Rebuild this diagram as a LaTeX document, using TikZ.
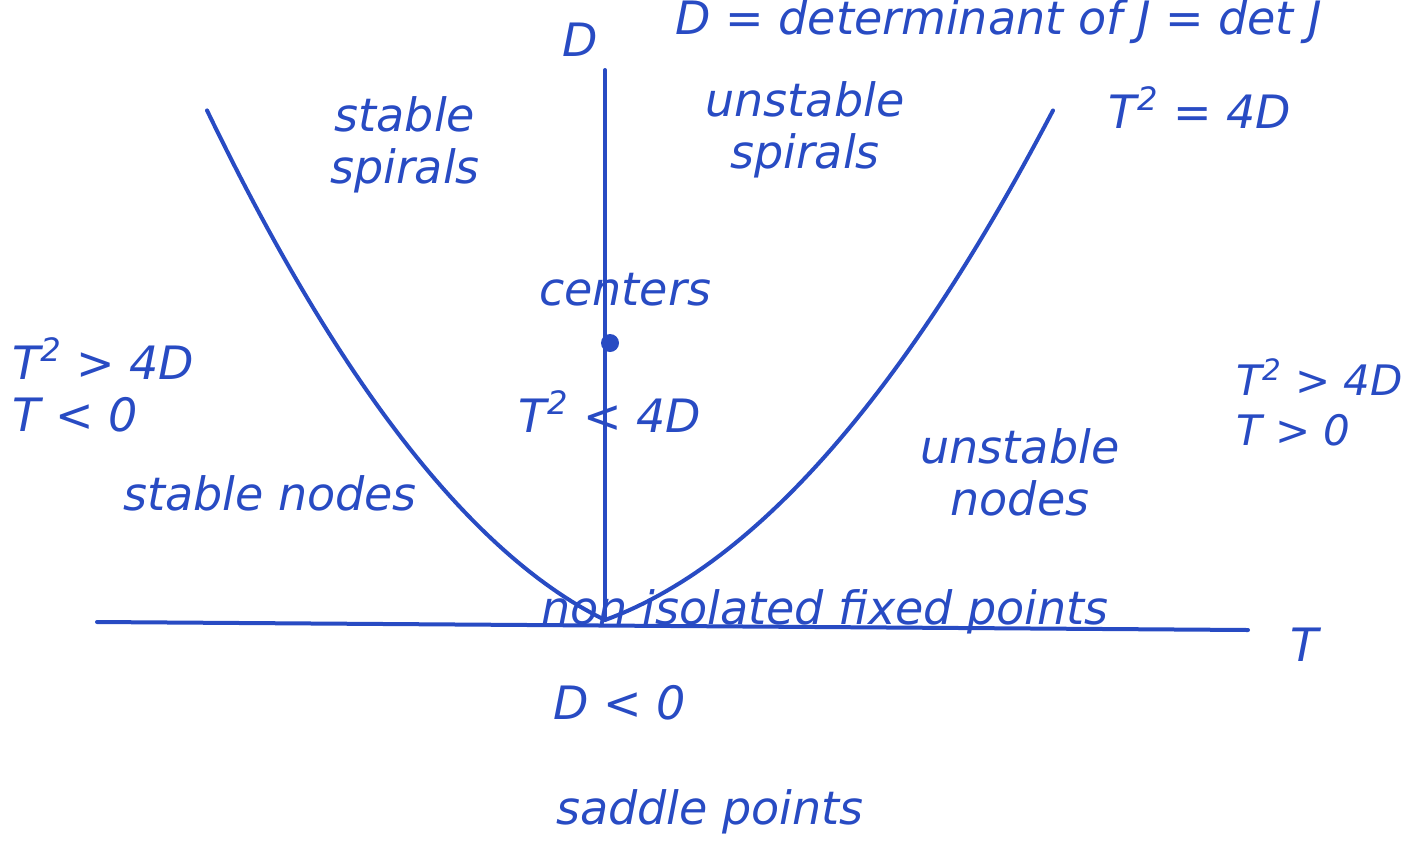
\documentclass[tikz,border=0pt]{standalone}
\usepackage{fontspec}
\setmainfont{DejaVu Sans}
\definecolor{ink}{RGB}{40,75,195}
\begin{document}
\begin{tikzpicture}[x=0.5pt,y=-0.5pt,
  hand/.style={text=ink,font=\fontsize{23}{26}\selectfont\itshape,align=center,inner sep=0pt},
  axis/.style={draw=ink,line width=2pt,line cap=round},
  curve/.style={draw=ink,line width=2pt,line cap=round,line join=round}]
\useasboundingbox (0,0) rectangle (1426,848);
% axes
\coordinate (dtop) at (605,70);
\coordinate (origin) at (605,620);
\coordinate (tleft) at (97,622);
\coordinate (tright) at (1248,630);
\draw[axis] (dtop) -- (origin);
\draw[axis] (tleft) -- (tright);
% parabola T^2 = 4D
\draw[curve] plot[domain=398:0,samples=60,variable=\u] ({605-\u},{620-(0.491*\u+0.001986*\u*\u)})
  -- plot[domain=0:448,samples=60,variable=\u] ({605+\u},{620-(0.365*\u+0.001726*\u*\u)});
% centers dot
\fill[ink] (610,343) circle (9);
% labels
\node[hand] (lD) at (580,40) {D};
\node[hand] (lT) at (1305,645) {T};
\node[hand,anchor=west] (ldet) at (675,22) {D = determinant of J = det J};
\node[hand] (sspir) at (405,145) {stable\\spirals};
\node[hand] (uspir) at (805,130) {unstable\\spirals};
\node[hand] (parab) at (1200,108) {T\textsuperscript{2} = 4D};
\node[hand] (cent) at (625,290) {centers};
\node[hand] (inner) at (610,412) {T\textsuperscript{2} < 4D};
\node[hand,align=left,anchor=west] (lefttop) at (12,385) {T\textsuperscript{2} > 4D\\T < 0};
\node[hand,align=left,anchor=west,font=\fontsize{21}{25}\selectfont\itshape] (righttop) at (1236,402) {T\textsuperscript{2} > 4D\\T > 0};
\node[hand] (snodes) at (270,493) {stable nodes};
\node[hand] (unodes) at (1020,472) {unstable\\nodes};
\node[hand] (noniso) at (825,612) {non isolated fixed points};
\node[hand] (dneg) at (620,703) {D < 0};
\node[hand] (saddle) at (710,812) {saddle points};
\end{tikzpicture}
\end{document}
